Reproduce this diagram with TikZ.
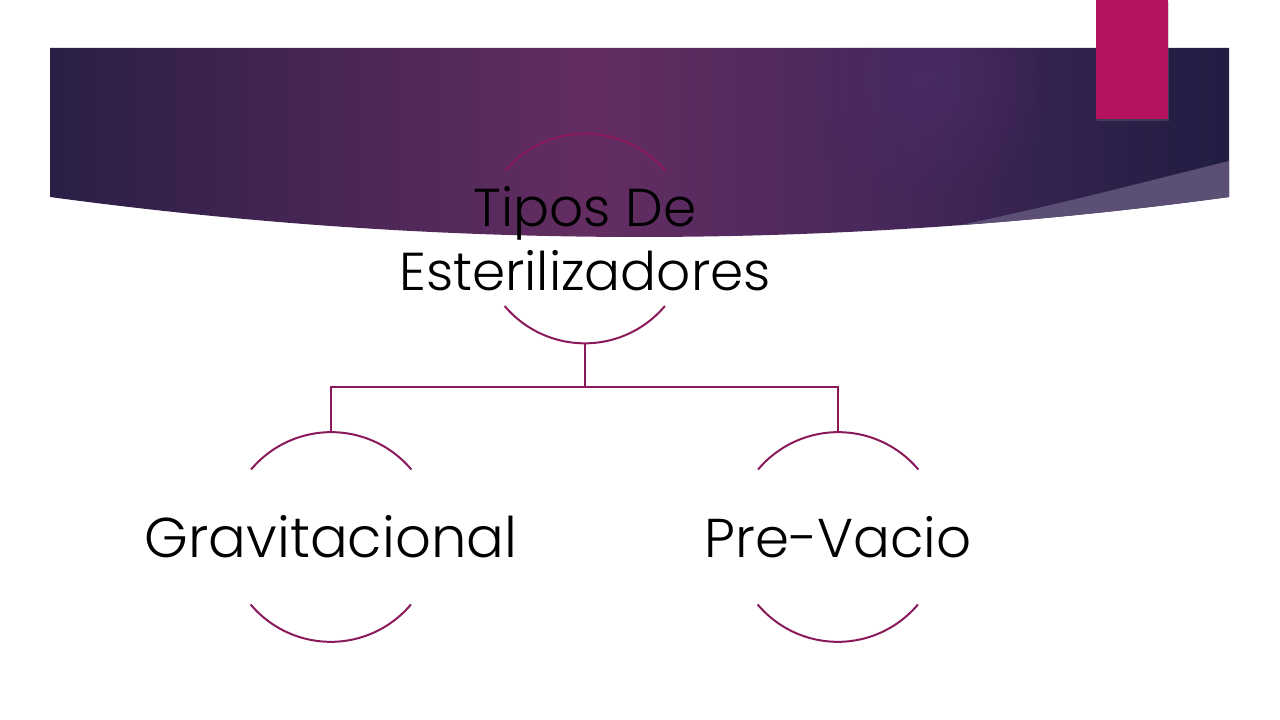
\documentclass[tikz,border=0pt]{standalone}
\usepackage{fontspec}
\setmainfont{Poppins Light}
\usetikzlibrary{fadings,shadows}
\definecolor{bnA}{HTML}{2A1F47}
\definecolor{bnB}{HTML}{642D62}
\definecolor{bnC}{HTML}{48285B}
\definecolor{bnD}{HTML}{2C2049}
\definecolor{bnE}{HTML}{221C43}
\definecolor{glowc}{HTML}{4B2D6A}
\definecolor{sweepc}{HTML}{5B4F76}
\definecolor{pinkc}{HTML}{B5135F}
\definecolor{connc}{HTML}{8B1A5B}
\pgfdeclarehorizontalshading{bannershade}{100bp}{color(0bp)=(bnA); color(25bp)=(bnA); color(48bp)=(bnB); color(60bp)=(bnC); color(70bp)=(bnD); color(75bp)=(bnE); color(100bp)=(bnE)}
\tikzfading[name=glowfade, inner color=transparent!0, outer color=transparent!100]
\begin{document}
\begin{tikzpicture}[x=0.75pt,y=0.75pt,
  ring/.style={circle, inner sep=0pt, minimum size=157pt},
  arcline/.style={draw=connc, line width=1.5pt},
  conn/.style={draw=connc, line width=1.5pt},
  lbl/.style={text=black, align=center, inner sep=0pt}]
\useasboundingbox (0,0) rectangle (1280,720);
% banner
\shade[shading=bannershade] (50,672) -- (1229,672) -- (1229,523) .. controls (836.3,469.7) and (443.3,469.7) .. (50,523) -- cycle;
\begin{scope}
  \clip (50,672) -- (1229,672) -- (1229,523) .. controls (836.3,469.7) and (443.3,469.7) .. (50,523) -- cycle;
  \fill[glowc, opacity=0.7, path fading=glowfade] (925,642) circle (130);
  \fill[sweepc] (1229,559) .. controls (1120,532) and (1000,500) .. (880,480) -- (880,440) -- (1240,440) -- (1240,559) -- cycle;
\end{scope}
% pink tab
\path[fill=pinkc, drop shadow={shadow xshift=1pt, shadow yshift=-1.5pt, opacity=0.3}] (1096,601) rectangle (1168,720);
% circles
\node[ring] (c0) at (585,481.5) {};
\node[ring] (c1) at (331,183) {};
\node[ring] (c2) at (838,183) {};
\foreach \c in {c0,c1,c2}{
  \draw[arcline] (\c.40) arc[start angle=40, end angle=140, radius=78.5pt];
  \draw[arcline] (\c.220) arc[start angle=220, end angle=320, radius=78.5pt];
}
% connectors
\draw[conn] (c0.south) -- ++(0,-44) -| (c1.north);
\draw[conn] (c0.south) -- ++(0,-44) -| (c2.north);
% labels
\node[lbl, font={\fontsize{40}{48}\selectfont}] (t0) at (585,481) {Tipos De\\Esterilizadores};
\node[lbl, font={\fontsize{42}{50}\selectfont}] (t1) at (331,183) {Gravitacional};
\node[lbl, font={\fontsize{41}{50}\selectfont}] (t2) at (838,183) {Pre-Vacio};
\end{tikzpicture}
\end{document}
